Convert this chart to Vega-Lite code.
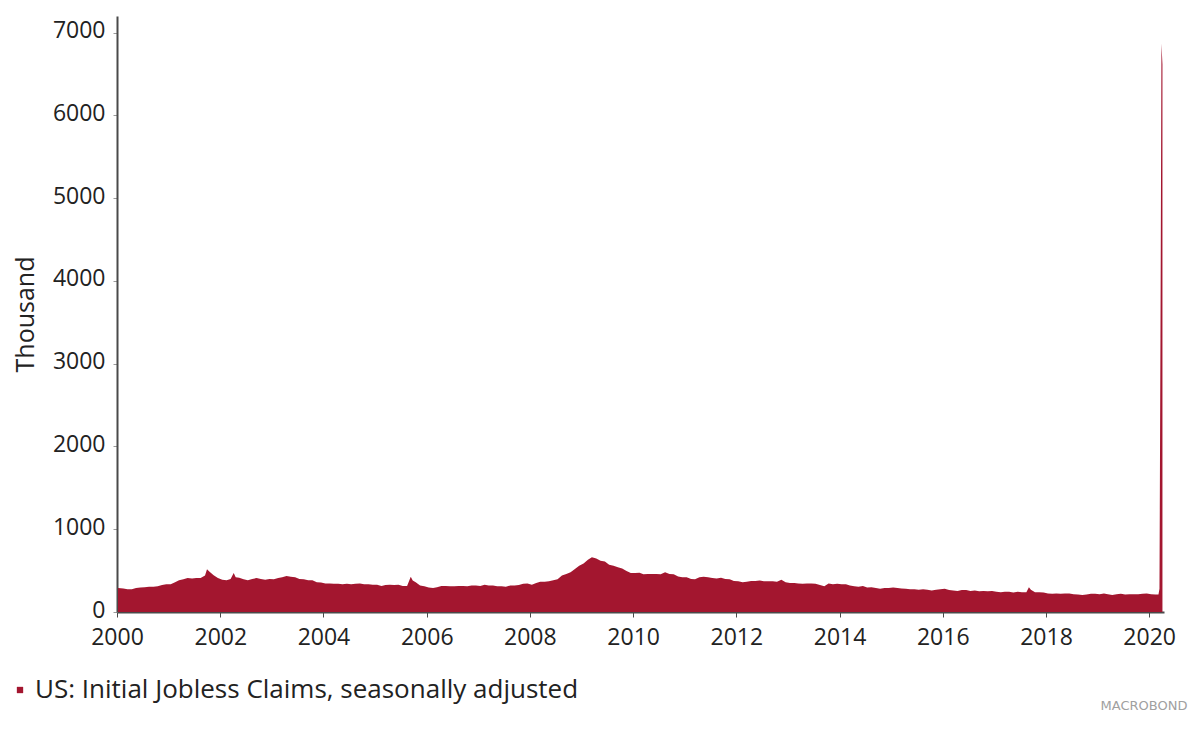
{
  "$schema": "https://vega.github.io/schema/vega-lite/v6.json",
  "autosize": "none",
  "width": 1047,
  "height": 596,
  "padding": {"left": 117, "top": 16, "right": 30, "bottom": 130},
  "background": "white",
  "config": {
    "font": "Open Sans",
    "view": {"stroke": null}
  },
  "title": {
    "text": "MACROBOND",
    "orient": "bottom",
    "anchor": "end",
    "fontSize": 13,
    "fontWeight": "normal",
    "color": "#a0a0a0",
    "offset": -3,
    "dx": 12,
    "font": "DejaVu Sans"
  },
  "data": {
    "values": [
      {"date": "2000-01-08", "value": 290}, {"date": "2000-02-15", "value": 285}, {"date": "2000-03-15", "value": 275}, {"date": "2000-04-15", "value": 275}, {"date": "2000-05-15", "value": 290}, {"date": "2000-06-15", "value": 295}, {"date": "2000-07-15", "value": 300}, {"date": "2000-08-15", "value": 305}, {"date": "2000-09-15", "value": 305}, {"date": "2000-10-15", "value": 310}, {"date": "2000-11-15", "value": 325}, {"date": "2000-12-15", "value": 335},
      {"date": "2001-01-15", "value": 335}, {"date": "2001-02-15", "value": 360}, {"date": "2001-03-15", "value": 385}, {"date": "2001-04-15", "value": 395}, {"date": "2001-05-15", "value": 410}, {"date": "2001-06-15", "value": 405}, {"date": "2001-07-15", "value": 410}, {"date": "2001-08-15", "value": 410}, {"date": "2001-09-15", "value": 440}, {"date": "2001-09-29", "value": 517}, {"date": "2001-10-15", "value": 490}, {"date": "2001-11-15", "value": 445}, {"date": "2001-12-15", "value": 410},
      {"date": "2002-01-15", "value": 390}, {"date": "2002-02-15", "value": 385}, {"date": "2002-03-15", "value": 400}, {"date": "2002-04-06", "value": 470}, {"date": "2002-04-20", "value": 420}, {"date": "2002-05-15", "value": 415}, {"date": "2002-06-15", "value": 395}, {"date": "2002-07-15", "value": 385}, {"date": "2002-08-15", "value": 400}, {"date": "2002-09-15", "value": 410}, {"date": "2002-10-15", "value": 400}, {"date": "2002-11-15", "value": 390}, {"date": "2002-12-15", "value": 400},
      {"date": "2003-01-15", "value": 395}, {"date": "2003-02-15", "value": 410}, {"date": "2003-03-15", "value": 420}, {"date": "2003-04-15", "value": 435}, {"date": "2003-05-15", "value": 425}, {"date": "2003-06-15", "value": 420}, {"date": "2003-07-15", "value": 400}, {"date": "2003-08-15", "value": 395}, {"date": "2003-09-15", "value": 385}, {"date": "2003-10-15", "value": 385}, {"date": "2003-11-15", "value": 360}, {"date": "2003-12-15", "value": 355},
      {"date": "2004-01-15", "value": 345}, {"date": "2004-02-15", "value": 345}, {"date": "2004-03-15", "value": 340}, {"date": "2004-04-15", "value": 340}, {"date": "2004-05-15", "value": 335}, {"date": "2004-06-15", "value": 340}, {"date": "2004-07-15", "value": 335}, {"date": "2004-08-15", "value": 340}, {"date": "2004-09-15", "value": 345}, {"date": "2004-10-15", "value": 335}, {"date": "2004-11-15", "value": 335}, {"date": "2004-12-15", "value": 330},
      {"date": "2005-01-15", "value": 330}, {"date": "2005-02-15", "value": 315}, {"date": "2005-03-15", "value": 325}, {"date": "2005-04-15", "value": 330}, {"date": "2005-05-15", "value": 325}, {"date": "2005-06-15", "value": 330}, {"date": "2005-07-15", "value": 315}, {"date": "2005-08-15", "value": 315}, {"date": "2005-09-10", "value": 425}, {"date": "2005-09-24", "value": 380}, {"date": "2005-10-15", "value": 360}, {"date": "2005-11-15", "value": 320}, {"date": "2005-12-15", "value": 310},
      {"date": "2006-01-15", "value": 295}, {"date": "2006-02-15", "value": 290}, {"date": "2006-03-15", "value": 300}, {"date": "2006-04-15", "value": 315}, {"date": "2006-05-15", "value": 315}, {"date": "2006-06-15", "value": 310}, {"date": "2006-07-15", "value": 310}, {"date": "2006-08-15", "value": 315}, {"date": "2006-09-15", "value": 315}, {"date": "2006-10-15", "value": 310}, {"date": "2006-11-15", "value": 320}, {"date": "2006-12-15", "value": 320},
      {"date": "2007-01-15", "value": 315}, {"date": "2007-02-15", "value": 330}, {"date": "2007-03-15", "value": 320}, {"date": "2007-04-15", "value": 320}, {"date": "2007-05-15", "value": 310}, {"date": "2007-06-15", "value": 310}, {"date": "2007-07-15", "value": 305}, {"date": "2007-08-15", "value": 320}, {"date": "2007-09-15", "value": 320}, {"date": "2007-10-15", "value": 325}, {"date": "2007-11-15", "value": 340}, {"date": "2007-12-15", "value": 345},
      {"date": "2008-01-15", "value": 330}, {"date": "2008-02-15", "value": 350}, {"date": "2008-03-15", "value": 365}, {"date": "2008-04-15", "value": 365}, {"date": "2008-05-15", "value": 370}, {"date": "2008-06-15", "value": 385}, {"date": "2008-07-15", "value": 395}, {"date": "2008-08-15", "value": 440}, {"date": "2008-09-15", "value": 460}, {"date": "2008-10-15", "value": 480}, {"date": "2008-11-15", "value": 520}, {"date": "2008-12-15", "value": 560},
      {"date": "2009-01-15", "value": 585}, {"date": "2009-02-15", "value": 630}, {"date": "2009-03-15", "value": 660}, {"date": "2009-04-15", "value": 645}, {"date": "2009-05-15", "value": 620}, {"date": "2009-06-15", "value": 610}, {"date": "2009-07-15", "value": 570}, {"date": "2009-08-15", "value": 560}, {"date": "2009-09-15", "value": 540}, {"date": "2009-10-15", "value": 525}, {"date": "2009-11-15", "value": 495}, {"date": "2009-12-15", "value": 470},
      {"date": "2010-01-15", "value": 470}, {"date": "2010-02-15", "value": 475}, {"date": "2010-03-15", "value": 455}, {"date": "2010-04-15", "value": 460}, {"date": "2010-05-15", "value": 460}, {"date": "2010-06-15", "value": 460}, {"date": "2010-07-15", "value": 455}, {"date": "2010-08-15", "value": 480}, {"date": "2010-09-15", "value": 460}, {"date": "2010-10-15", "value": 455}, {"date": "2010-11-15", "value": 430}, {"date": "2010-12-15", "value": 420},
      {"date": "2011-01-15", "value": 420}, {"date": "2011-02-15", "value": 400}, {"date": "2011-03-15", "value": 395}, {"date": "2011-04-15", "value": 420}, {"date": "2011-05-15", "value": 425}, {"date": "2011-06-15", "value": 420}, {"date": "2011-07-15", "value": 410}, {"date": "2011-08-15", "value": 405}, {"date": "2011-09-15", "value": 415}, {"date": "2011-10-15", "value": 400}, {"date": "2011-11-15", "value": 395}, {"date": "2011-12-15", "value": 375},
      {"date": "2012-01-15", "value": 370}, {"date": "2012-02-15", "value": 360}, {"date": "2012-03-15", "value": 365}, {"date": "2012-04-15", "value": 375}, {"date": "2012-05-15", "value": 375}, {"date": "2012-06-15", "value": 380}, {"date": "2012-07-15", "value": 370}, {"date": "2012-08-15", "value": 370}, {"date": "2012-09-15", "value": 370}, {"date": "2012-10-15", "value": 365}, {"date": "2012-11-15", "value": 390}, {"date": "2012-12-15", "value": 360},
      {"date": "2013-01-15", "value": 350}, {"date": "2013-02-15", "value": 350}, {"date": "2013-03-15", "value": 345}, {"date": "2013-04-15", "value": 340}, {"date": "2013-05-15", "value": 345}, {"date": "2013-06-15", "value": 345}, {"date": "2013-07-15", "value": 340}, {"date": "2013-08-15", "value": 325}, {"date": "2013-09-15", "value": 310}, {"date": "2013-10-15", "value": 345}, {"date": "2013-11-15", "value": 335}, {"date": "2013-12-15", "value": 340},
      {"date": "2014-01-15", "value": 335}, {"date": "2014-02-15", "value": 335}, {"date": "2014-03-15", "value": 320}, {"date": "2014-04-15", "value": 310}, {"date": "2014-05-15", "value": 305}, {"date": "2014-06-15", "value": 315}, {"date": "2014-07-15", "value": 295}, {"date": "2014-08-15", "value": 300}, {"date": "2014-09-15", "value": 290}, {"date": "2014-10-15", "value": 280}, {"date": "2014-11-15", "value": 290}, {"date": "2014-12-15", "value": 290},
      {"date": "2015-01-15", "value": 295}, {"date": "2015-02-15", "value": 290}, {"date": "2015-03-15", "value": 285}, {"date": "2015-04-15", "value": 280}, {"date": "2015-05-15", "value": 275}, {"date": "2015-06-15", "value": 275}, {"date": "2015-07-15", "value": 270}, {"date": "2015-08-15", "value": 275}, {"date": "2015-09-15", "value": 270}, {"date": "2015-10-15", "value": 260}, {"date": "2015-11-15", "value": 270}, {"date": "2015-12-15", "value": 275},
      {"date": "2016-01-15", "value": 280}, {"date": "2016-02-15", "value": 265}, {"date": "2016-03-15", "value": 260}, {"date": "2016-04-15", "value": 255}, {"date": "2016-05-15", "value": 265}, {"date": "2016-06-15", "value": 265}, {"date": "2016-07-15", "value": 255}, {"date": "2016-08-15", "value": 260}, {"date": "2016-09-15", "value": 250}, {"date": "2016-10-15", "value": 255}, {"date": "2016-11-15", "value": 250}, {"date": "2016-12-15", "value": 255},
      {"date": "2017-01-15", "value": 245}, {"date": "2017-02-15", "value": 240}, {"date": "2017-03-15", "value": 245}, {"date": "2017-04-15", "value": 245}, {"date": "2017-05-15", "value": 235}, {"date": "2017-06-15", "value": 245}, {"date": "2017-07-15", "value": 240}, {"date": "2017-08-15", "value": 240}, {"date": "2017-09-02", "value": 298}, {"date": "2017-09-16", "value": 270}, {"date": "2017-10-15", "value": 240}, {"date": "2017-11-15", "value": 240}, {"date": "2017-12-15", "value": 235},
      {"date": "2018-01-15", "value": 225}, {"date": "2018-02-15", "value": 220}, {"date": "2018-03-15", "value": 225}, {"date": "2018-04-15", "value": 220}, {"date": "2018-05-15", "value": 222}, {"date": "2018-06-15", "value": 222}, {"date": "2018-07-15", "value": 215}, {"date": "2018-08-15", "value": 210}, {"date": "2018-09-15", "value": 205}, {"date": "2018-10-15", "value": 212}, {"date": "2018-11-15", "value": 220}, {"date": "2018-12-15", "value": 220},
      {"date": "2019-01-15", "value": 215}, {"date": "2019-02-15", "value": 225}, {"date": "2019-03-15", "value": 215}, {"date": "2019-04-15", "value": 205}, {"date": "2019-05-15", "value": 215}, {"date": "2019-06-15", "value": 220}, {"date": "2019-07-15", "value": 212}, {"date": "2019-08-15", "value": 215}, {"date": "2019-09-15", "value": 213}, {"date": "2019-10-15", "value": 215}, {"date": "2019-11-15", "value": 220}, {"date": "2019-12-15", "value": 225},
      {"date": "2020-01-15", "value": 215}, {"date": "2020-02-15", "value": 212}, {"date": "2020-03-07", "value": 211}, {"date": "2020-03-14", "value": 282}, {"date": "2020-03-21", "value": 3307}, {"date": "2020-03-28", "value": 6867}, {"date": "2020-04-04", "value": 6615}
    ]
  },
  "mark": {"type": "area", "interpolate": "linear"},
  "encoding": {
    "x": {
      "field": "date",
      "type": "temporal",
      "scale": {"domain": [{"year": 2000, "month": 1, "date": 1}, {"year": 2020, "month": 4, "date": 15}]},
      "axis": {
        "title": null,
        "format": "%Y",
        "values": [{"year": 2000, "month": 1, "date": 1}, {"year": 2002, "month": 1, "date": 1}, {"year": 2004, "month": 1, "date": 1}, {"year": 2006, "month": 1, "date": 1}, {"year": 2008, "month": 1, "date": 1}, {"year": 2010, "month": 1, "date": 1}, {"year": 2012, "month": 1, "date": 1}, {"year": 2014, "month": 1, "date": 1}, {"year": 2016, "month": 1, "date": 1}, {"year": 2018, "month": 1, "date": 1}, {"year": 2020, "month": 1, "date": 1}],
        "grid": false,
        "domainColor": "#4a4a4a",
        "domainWidth": 2,
        "tickColor": "#4a4a4a",
        "tickSize": 5,
        "labelFontSize": 23,
        "labelColor": "#222222",
        "labelPadding": 9,
        "labelFlush": false
      }
    },
    "y": {
      "field": "value",
      "type": "quantitative",
      "scale": {"domain": [0, 7200], "nice": false},
      "axis": {
        "title": "Thousand",
        "titleFontSize": 25,
        "titleFontWeight": "normal",
        "titleColor": "#222222",
        "titlePadding": 14,
        "values": [0, 1000, 2000, 3000, 4000, 5000, 6000, 7000],
        "format": "d",
        "grid": false,
        "domainColor": "#4a4a4a",
        "domainWidth": 2,
        "tickColor": "#9a9a9a",
        "tickSize": 4,
        "labelFontSize": 23,
        "labelColor": "#222222",
        "labelPadding": 8,
        "labelOffset": -2
      }
    },
    "color": {
      "datum": "US: Initial Jobless Claims, seasonally adjusted",
      "type": "nominal",
      "scale": {"range": ["#a3162f"]},
      "legend": {
        "title": null,
        "orient": "none",
        "legendX": -110,
        "legendY": 661,
        "symbolType": "square",
        "symbolSize": 40,
        "labelFontSize": 26,
        "labelColor": "#222222",
        "labelOffset": 2,
        "labelLimit": 800
      }
    }
  }
}
